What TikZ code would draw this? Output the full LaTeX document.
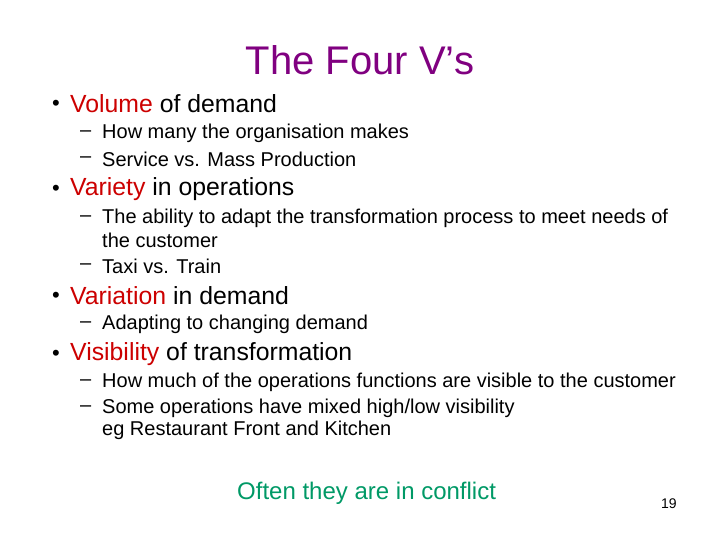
\documentclass[tikz,border=0pt]{standalone}
\usepackage{fontspec}
\setmainfont{Liberation Sans}
\definecolor{ttl}{RGB}{128,0,128}
\definecolor{hl}{RGB}{204,0,0}
\definecolor{grn}{RGB}{0,153,102}
\begin{document}
\begin{tikzpicture}[x=1pt,y=-1pt,
  lone/.style={anchor=west,inner sep=0pt,font=\fontsize{24.8}{28}\selectfont},
  ltwo/.style={anchor=west,inner sep=0pt,font=\fontsize{20}{24}\selectfont,align=left},
  bul/.style={anchor=west,inner sep=0pt,font=\fontsize{22}{26}\selectfont},
  dsh/.style={anchor=west,inner sep=0pt,font=\fontsize{20}{24}\selectfont}]
\useasboundingbox (0,0) rectangle (720,540);
\node[inner sep=0pt,text=ttl,font=\fontsize{40}{44}\selectfont] (title) at (360,60) {The Four V’s};
\node[bul] (b1) at (52,105) {•}; \node[lone] (t1) at (70,104) {\textcolor{hl}{Volume} of demand};
\node[dsh] (d11) at (80,134) {–}; \node[ltwo] (s11) at (102,133) {How many the organisation makes};
\node[dsh] (d12) at (80,160) {–}; \node[ltwo] (s12) at (102,159) {Service vs. Mass Production};
\node[bul] (b2) at (52,190) {•}; \node[lone] (t2) at (70,189) {\textcolor{hl}{Variety} in operations};
\node[dsh] (d21) at (80,219) {–}; \node[ltwo] (s21) at (102,218) {The ability to adapt the transformation process to meet needs of};
\node[ltwo] (s21b) at (102,240) {the customer};
\node[dsh] (d22) at (80,267) {–}; \node[ltwo] (s22) at (102,266) {Taxi vs. Train};
\node[bul] (b3) at (52,297) {•}; \node[lone] (t3) at (70,296) {\textcolor{hl}{Variation} in demand};
\node[dsh] (d31) at (80,325) {–}; \node[ltwo] (s31) at (102,324) {Adapting to changing demand};
\node[bul] (b4) at (52,355) {•}; \node[lone] (t4) at (70,354) {\textcolor{hl}{Visibility} of transformation};
\node[dsh] (d41) at (80,383) {–}; \node[ltwo] (s41) at (102,382) {How much of the operations functions are visible to the customer};
\node[dsh] (d42) at (80,409) {–}; \node[ltwo] (s42) at (102,408) {Some operations have mixed high/low visibility};
\node[ltwo] (s42b) at (102,430) {eg Restaurant Front and Kitchen};
\node[lone,text=grn,font=\fontsize{24}{28}\selectfont] (foot) at (237,493) {Often they are in conflict};
\node[anchor=west,inner sep=0pt,font=\fontsize{14}{16}\selectfont] (pg) at (661,504) {19};
\end{tikzpicture}
\end{document}
